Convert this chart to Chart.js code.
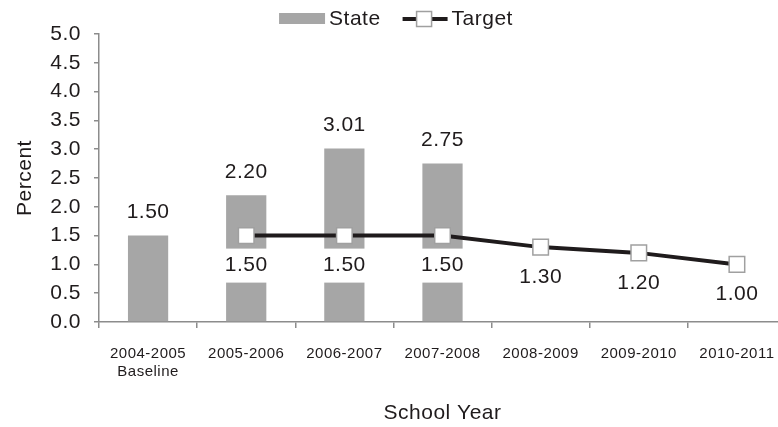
<!DOCTYPE html>
<html>
<head>
<meta charset="utf-8">
<script src="https://cdn.jsdelivr.net/npm/chart.js@4.4.0/dist/chart.umd.min.js"></script>
<style>
  html, body { margin: 0; padding: 0; background: #fff; overflow: hidden; }
  #wrap { width: 800px; height: 427px; }
</style>
</head>
<body>
<div id="wrap"><canvas id="grafico"></canvas></div>
<script>
// dados
const anos = [["2004-2005", "Baseline"], "2005-2006", "2006-2007", "2007-2008", "2008-2009", "2009-2010", "2010-2011"];
const estado = [1.50, 2.20, 3.01, 2.75, null, null, null];
const meta = [null, 1.50, 1.50, 1.50, 1.30, 1.20, 1.00];

const FONTE = "'Liberation Sans', Arial, sans-serif";
const TEXTO = "#1f1b1c";
const CINZA = "#a6a6a6";
const EIXO = "#8c8c8c";

// rotulos das barras e da meta (com fundo branco)
const rotulos = {
  id: "rotulos",
  beforeDraw(chart) {
    chart.ctx.letterSpacing = "0.5px";
  },
  afterDatasetsDraw(chart) {
    const ctx = chart.ctx;
    ctx.save();
    ctx.font = "21px " + FONTE;
    ctx.textAlign = "center";
    ctx.textBaseline = "middle";

    chart.getDatasetMeta(1).data.forEach((barra, i) => {
      if (estado[i] == null) return;
      ctx.fillStyle = TEXTO;
      ctx.fillText(estado[i].toFixed(2), barra.x, barra.y - 23);
    });

    chart.getDatasetMeta(0).data.forEach((ponto, i) => {
      if (meta[i] == null) return;
      const y = ponto.y + 30;
      ctx.fillStyle = "#fff";
      ctx.fillRect(ponto.x - 26, y - 17, 52, 34);
      ctx.fillStyle = TEXTO;
      ctx.fillText(meta[i].toFixed(2), ponto.x, y);
    });
    ctx.restore();
  },
};

// legenda no topo: caixa cinza + linha com marcador
const legenda = {
  id: "legenda",
  afterDraw(chart) {
    const ctx = chart.ctx;
    ctx.save();
    ctx.font = "21px " + FONTE;
    ctx.textAlign = "left";
    ctx.textBaseline = "middle";
    const y = 19;
    const wState = ctx.measureText("State").width;
    const wTarget = ctx.measureText("Target").width;
    const total = 46 + 4 + wState + 22 + 45 + 4 + wTarget;
    let x = chart.width / 2 - 4 - total / 2;

    ctx.fillStyle = CINZA;
    ctx.fillRect(x, y - 6, 46, 11);
    x += 50;
    ctx.fillStyle = TEXTO;
    ctx.fillText("State", x, y);
    x += wState + 22;

    ctx.strokeStyle = TEXTO;
    ctx.lineWidth = 4;
    ctx.beginPath();
    ctx.moveTo(x, y);
    ctx.lineTo(x + 45, y);
    ctx.stroke();
    ctx.fillStyle = "#fff";
    ctx.strokeStyle = "#a0a0a0";
    ctx.lineWidth = 1.5;
    ctx.fillRect(x + 14, y - 7.5, 15, 15);
    ctx.strokeRect(x + 14, y - 7.5, 15, 15);
    x += 49;
    ctx.fillStyle = TEXTO;
    ctx.fillText("Target", x, y);
    ctx.restore();
  },
};

new Chart(document.getElementById("grafico"), {
  type: "bar",
  data: {
    labels: anos,
    datasets: [
      {
        type: "line",
        label: "Target",
        data: meta,
        borderColor: TEXTO,
        borderWidth: 4,
        pointStyle: "rect",
        pointRadius: 11,
        pointBackgroundColor: "#fff",
        pointBorderColor: "#a0a0a0",
        pointBorderWidth: 1.5,
        tension: 0,
        order: 1,
      },
      {
        label: "State",
        data: estado,
        backgroundColor: CINZA,
        barPercentage: 0.41,
        categoryPercentage: 1,
        order: 2,
      },
    ],
  },
  options: {
    responsive: true,
    maintainAspectRatio: false,
    animation: false,
    layout: { padding: { top: 34, right: 14, bottom: 0, left: 0 } },
    plugins: {
      legend: { display: false },
      tooltip: { enabled: false },
    },
    scales: {
      x: {
        ticks: {
          font: { family: FONTE, size: 15, lineHeight: 1.25 },
          color: TEXTO,
          padding: 16,
          maxRotation: 0,
          autoSkip: false,
        },
        grid: { offset: true, drawOnChartArea: false, tickLength: 6, color: EIXO, lineWidth: 1.5 },
        border: { color: EIXO, width: 1.5 },
        title: {
          display: true,
          text: "School Year",
          font: { family: FONTE, size: 21 },
          color: TEXTO,
          padding: { top: 4, bottom: 1 },
        },
        afterFit(s) { s.height = 105; },
      },
      y: {
        min: 0,
        max: 5,
        ticks: {
          stepSize: 0.5,
          font: { family: FONTE, size: 21 },
          color: TEXTO,
          padding: 13,
          callback: (v) => v.toFixed(1),
        },
        grid: { drawOnChartArea: false, tickLength: 5, color: EIXO, lineWidth: 1.5 },
        border: { color: EIXO, width: 1.5 },
        title: {
          display: true,
          text: "Percent",
          font: { family: FONTE, size: 21 },
          color: TEXTO,
          padding: { top: 13, bottom: 0 },
        },
        afterFit(s) { s.width = 99; },
      },
    },
  },
  plugins: [rotulos, legenda],
});
</script>
</body>
</html>
